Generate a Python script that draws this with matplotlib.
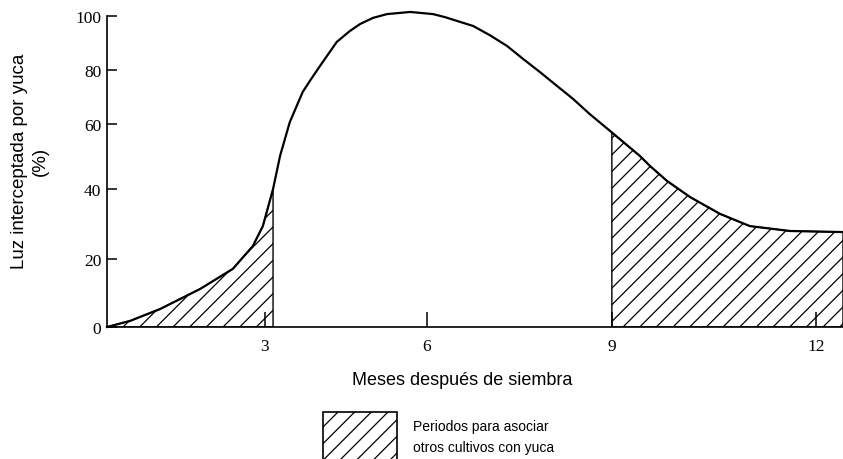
import numpy as np
import matplotlib
matplotlib.use("Agg")
import matplotlib.pyplot as plt
from matplotlib.patches import Rectangle

# datos (meses, % de luz interceptada)
meses = [0.0, 0.44, 1.01, 1.77, 2.39, 2.77, 2.96, 3.15, 3.28, 3.46, 3.70,
         3.83, 4.02, 4.33, 4.57, 4.76, 5.0, 5.26, 5.69, 6.10, 6.29, 6.54,
         6.75, 7.02, 7.30, 7.56, 7.83, 8.11, 8.37, 8.64,
         9.0, 9.41, 9.56, 9.81, 10.15, 10.59, 11.03, 11.62, 12.4]
luz = [0.0, 1.8, 5.3, 11.2, 17.1, 23.7, 29.4, 40.0, 50.2, 60.7, 71.9,
       75.9, 81.5, 90.4, 94.4, 97.0, 99.3, 100.7, 101.5, 100.7, 99.6, 97.8,
       96.3, 92.9, 88.9, 84.1, 79.3, 74.1, 69.3, 63.7,
       57.4, 50.2, 47.1, 42.5, 37.7, 32.9, 29.4, 28.0, 27.7]

inicio_asociar = 3.15
fin_asociar = 9.0

x_ticks = [3, 6, 9, 12]
y_ticks = [0, 20, 40, 60, 80, 100]

# la escala del dibujo original no es uniforme (escaneo)
x_ref = [0, 3, 6, 9, 12, 15]
x_pix = [0, 158, 320, 505, 709, 913]
y_ref = [0, 20, 40, 60, 80, 100, 120]
y_pix = [0, 68, 138, 203, 257, 311, 365]


def fwd_x(v):
    return np.interp(v, x_ref, x_pix)


def inv_x(v):
    return np.interp(v, x_pix, x_ref)


def fwd_y(v):
    return np.interp(v, y_ref, y_pix)


def inv_y(v):
    return np.interp(v, y_pix, y_ref)


plt.rcParams["hatch.linewidth"] = 0.9

fig = plt.figure(figsize=(8.43, 4.60), dpi=100)
ax = fig.add_axes([107 / 843, 1 - 328 / 460, 1 - 107 / 843, (328 - 17) / 460])
ax.set_xscale("function", functions=(fwd_x, inv_x))
ax.set_yscale("function", functions=(fwd_y, inv_y))

m = np.array(meses)
l = np.array(luz)

ax.plot(m, l, color="black", lw=1.6, clip_on=False, zorder=3,
        solid_joinstyle="round")

izq = m <= inicio_asociar
der = m >= fin_asociar
ax.fill_between(m[izq], 0, l[izq], facecolor="none", edgecolor="black",
                hatch="//", lw=1.0)
ax.fill_between(m[der], 0, l[der], facecolor="none", edgecolor="black",
                hatch="//", lw=1.0)

ax.set_xlim(0, 12.4)
ax.set_ylim(0, 100)
ax.spines["top"].set_visible(False)
ax.spines["right"].set_visible(False)
for s in ["left", "bottom"]:
    ax.spines[s].set_linewidth(1.2)

ax.set_xticks(x_ticks)
ax.set_yticks(y_ticks)
ax.set_xticklabels([str(t) for t in x_ticks])
ax.set_yticklabels([str(t) for t in y_ticks])
ax.tick_params(axis="x", direction="in", length=11, width=1.1, pad=8)
ax.tick_params(axis="y", direction="in", length=7, width=1.1, pad=4)
for lab in ax.get_xticklabels() + ax.get_yticklabels():
    lab.set_fontfamily("Liberation Serif")
    lab.set_fontsize(12.5)

fig.text(462 / 843, 1 - 381 / 460, "Meses después de siembra",
         ha="center", va="center", fontsize=13, family="Liberation Sans")
fig.text(30 / 843, 1 - 161 / 460, "Luz interceptada por yuca\n(%)",
         ha="center", va="center", rotation=90, fontsize=13.5,
         family="Liberation Sans", linespacing=1.3, multialignment="center")

# leyenda
caja = Rectangle((323 / 843, -0.05), 74 / 843, 0.05 + 1 - 413 / 460,
                 transform=fig.transFigure, facecolor="none",
                 edgecolor="black", hatch="//", lw=1.2, clip_on=False)
fig.patches.append(caja)
fig.text(413 / 843, 1 - 427 / 460, "Periodos para asociar",
         ha="left", va="center", fontsize=10, family="Liberation Sans")
fig.text(413 / 843, 1 - 448 / 460, "otros cultivos con yuca",
         ha="left", va="center", fontsize=10, family="Liberation Sans")

fig.savefig("out.png", dpi=100)
